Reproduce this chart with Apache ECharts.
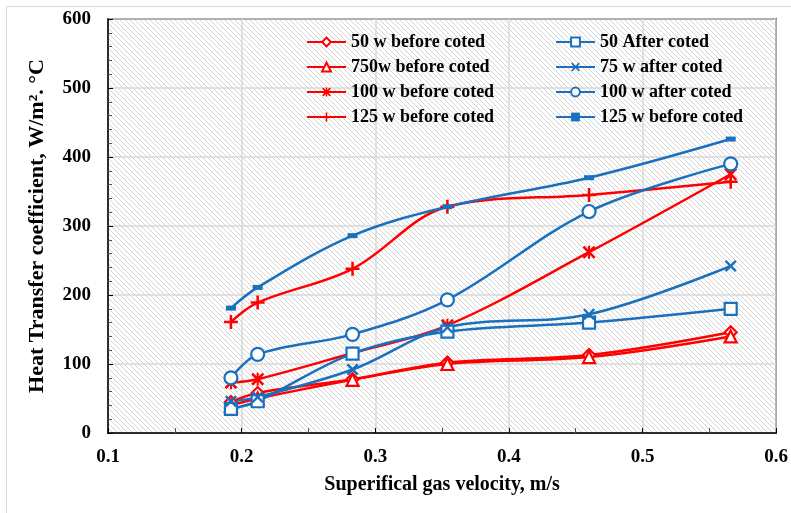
<!DOCTYPE html>
<html>
<head>
<meta charset="utf-8">
<script src="https://cdn.jsdelivr.net/npm/echarts@6/dist/echarts.min.js"></script>
<style>
html,body{margin:0;padding:0;background:#fff;}
#chart{width:791px;height:513px;}
</style>
</head>
<body>
<div id="chart"></div>
<script>
// ---- data ----
var velocity = [0.192, 0.212, 0.283, 0.354, 0.46, 0.566];
var w50Before  = [45, 58, 78, 102, 113, 146];
var w750Before = [40, 50, 77, 100, 110, 140];
var w100Before = [73, 78, 116, 156, 262, 375];
var w125Before = [161, 189, 238, 328, 345, 364];
var w50After   = [35, 46, 115, 147, 160, 180];
var w75After   = [46, 52, 92, 153, 172, 242];
var w100After  = [80, 114, 143, 193, 321, 390];
var w125AfterB = [181, 211, 286, 328, 370, 426];
var seriesNames = ['50 w before coted', '750w before coted', '100 w before coted', '125 w before coted',
                   '50 After coted', '75 w after coted', '100 w after coted', '125 w before coted '];
var xTicks = [0.1, 0.2, 0.3, 0.4, 0.5, 0.6];
var yTicks = [0, 100, 200, 300, 400, 500, 600];

function pairs(v){ return velocity.map(function(x,i){ return [x, v[i]]; }); }

// hatch pattern
var pc = document.createElement('canvas');
var s = 5;
pc.width = s; pc.height = s;
var ctx = pc.getContext('2d');
ctx.fillStyle = '#ffffff'; ctx.fillRect(0,0,s,s);
ctx.strokeStyle = '#d4d4d4'; ctx.lineWidth = 1;
[-s, 0, s].forEach(function(k){ ctx.beginPath(); ctx.moveTo(k,0); ctx.lineTo(k+s,s); ctx.stroke(); });

var RED = '#ff0000', BLUE = '#1a70bd';
var FONT = '"Liberation Serif", "Times New Roman", serif';

var plusPath = 'path://M4.1,0h1.8v4.1h4.1v1.8h-4.1v4.1h-1.8v-4.1h-4.1v-1.8h4.1z';
var xPath = 'path://M1.4,0L5,3.6L8.6,0L10,1.4L6.4,5L10,8.6L8.6,10L5,6.4L1.4,10L0,8.6L3.6,5L0,1.4z';
var starPath = 'path://M1.4,0L4.2,2.8V0h1.6v2.8L8.6,0L10,1.4L6.4,5L10,8.6L8.6,10L5.8,7.2V10H4.2V7.2L1.4,10L0,8.6L3.6,5L0,1.4z';
var dashPath = 'path://M0,0h10v5h-10z';

function mk(name, data, color, symbol, size, hollow){
  return {
    name: name, type: 'line', data: pairs(data), smooth: 0.35,
    symbol: symbol, symbolSize: size, showSymbol: true,
    lineStyle: {color: color, width: 2.5},
    itemStyle: hollow ? {color: '#ffffff', borderColor: color, borderWidth: 2.2}
                      : {color: color, borderColor: color, borderWidth: 0},
    color: color, z: 3
  };
}

var series = [
  mk(seriesNames[0], w50Before, RED, 'diamond', 12, true),
  mk(seriesNames[1], w750Before, RED, 'triangle', 12, true),
  mk(seriesNames[2], w100Before, RED, starPath, 13, false),
  mk(seriesNames[3], w125Before, RED, plusPath, 14, false),
  mk(seriesNames[4], w50After, BLUE, 'rect', 12, true),
  mk(seriesNames[5], w75After, BLUE, xPath, 12, false),
  mk(seriesNames[6], w100After, BLUE, 'circle', 13, true),
  mk(seriesNames[7], w125AfterB, BLUE, dashPath, [10,5], false)
];

var legendText = {fontFamily: FONT, fontWeight: 'bold', fontSize: 18, color: '#000'};
var chart = echarts.init(document.getElementById('chart'), null, {renderer: 'canvas'});
chart.setOption({
  animation: false,
  backgroundColor: '#ffffff',
  graphic: [{type: 'rect', shape: {x: 6.5, y: 6.5, width: 800, height: 520}, style: {fill: 'none', stroke: '#d9d9d9', lineWidth: 1}, z: -10}],
  grid: {left: 108, right: 11, top: 19, bottom: 80, show: true,
         backgroundColor: {image: pc, repeat: 'repeat'}, borderColor: '#000', borderWidth: 1.5},
  legend: [
    {data: seriesNames.slice(0,4), orient: 'vertical', left: 306, top: 33, padding: 0, itemWidth: 39, itemHeight: 11, itemGap: 7,
     textStyle: legendText},
    {data: seriesNames.slice(4), orient: 'vertical', left: 555, top: 33, padding: 0, itemWidth: 39, itemHeight: 11, itemGap: 7,
     textStyle: legendText}
  ],
  xAxis: {
    type: 'value', min: 0.1, max: 0.6, interval: 0.1,
    name: 'Superifical gas velocity, m/s', nameLocation: 'middle', nameGap: 42,
    nameTextStyle: {fontFamily: FONT, fontWeight: 'bold', fontSize: 20, color: '#000'},
    axisLine: {lineStyle: {color: '#000', width: 1.5}},
    axisTick: {inside: true, length: 5, lineStyle: {color: '#000'}},
    minorTick: {show: true, splitNumber: 2, length: 5, lineStyle: {color: '#555'}},
    splitLine: {show: true, lineStyle: {color: '#d9d9d9', width: 1.5}},
    axisLabel: {margin: 15, fontFamily: FONT, fontWeight: 'bold', fontSize: 19, color: '#000',
                formatter: function(v){ return v.toFixed(1); }}
  },
  yAxis: {
    type: 'value', min: 0, max: 600, interval: 100,
    name: 'Heat Transfer coefficient, W/m\u00B2. \u00B0C', nameLocation: 'middle', nameGap: 60,
    nameTextStyle: {fontFamily: FONT, fontWeight: 'bold', fontSize: 22, color: '#000'},
    axisLine: {show: true, lineStyle: {color: '#000', width: 1.5}},
    axisTick: {show: true, inside: true, length: 5, lineStyle: {color: '#000'}},
    minorTick: {show: true, splitNumber: 5, length: 4, lineStyle: {color: '#555'}},
    splitLine: {show: true, lineStyle: {color: '#d9d9d9', width: 1.5}},
    axisLabel: {margin: 17, fontFamily: FONT, fontWeight: 'bold', fontSize: 19, color: '#000'}
  },
  series: series
});
</script>
</body>
</html>
